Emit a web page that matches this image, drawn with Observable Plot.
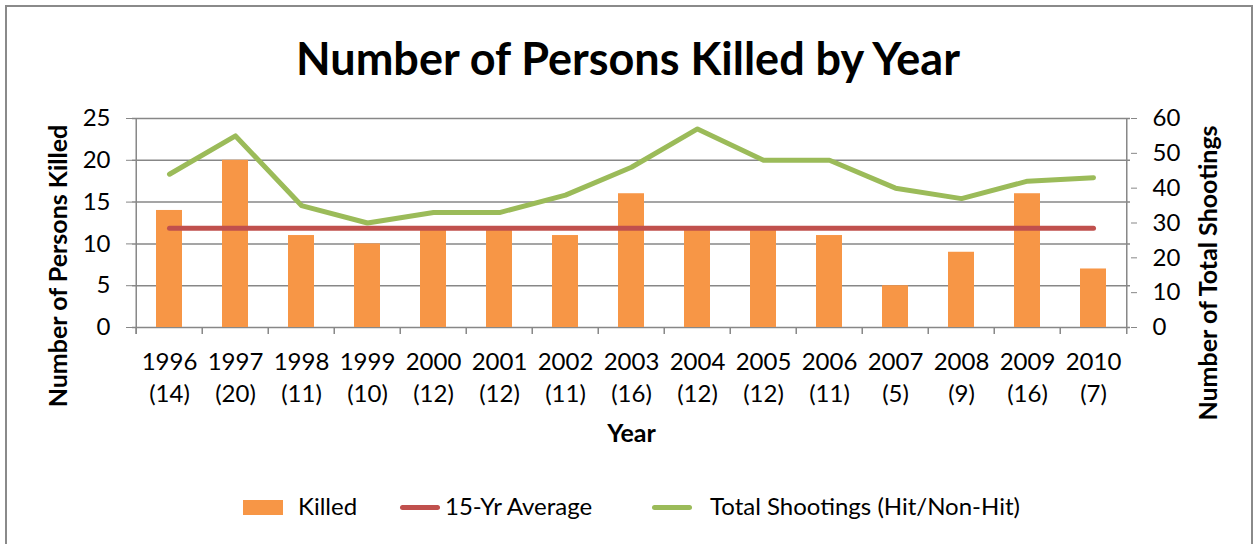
<!DOCTYPE html>
<html><head><meta charset="utf-8">
<script src="https://cdn.jsdelivr.net/npm/d3@7"></script>
<script src="https://cdn.jsdelivr.net/npm/@observablehq/plot@0.6"></script>
<style>
body{margin:0;width:1256px;height:544px;overflow:hidden;background:#fff;font-family:Lato,"Open Sans",sans-serif;position:relative;}
#frame{position:absolute;left:5px;top:5px;width:1248px;height:600px;border:2px solid #8a8a8a;box-sizing:border-box;}
#title{position:absolute;left:0;top:0;width:1256px;height:116px;text-align:center;font-weight:bold;font-size:45px;line-height:116px;color:#000;}
#chart{position:absolute;left:0;top:100px;}
.lg{position:absolute;top:491px;font-size:24px;line-height:30px;color:#000;white-space:nowrap;}
.sw{position:absolute;}
</style></head>
<body>
<div id="frame"></div>
<div id="title">Number of Persons Killed by Year</div>
<div id="chart"></div>
<div class="sw" style="left:243px;top:500px;width:40px;height:15px;background:#F79646"></div>
<div class="lg" style="left:298px">Killed</div>
<div class="sw" style="left:400px;top:505px;width:40px;height:5px;border-radius:3px;background:#C0504D"></div>
<div class="lg" style="left:445px">15-Yr Average</div>
<div class="sw" style="left:652px;top:505px;width:40px;height:5px;border-radius:3px;background:#9BBB59"></div>
<div class="lg" style="left:710px">Total Shootings (Hit/Non-Hit)</div>
<script>
const years = ["1996","1997","1998","1999","2000","2001","2002","2003","2004","2005","2006","2007","2008","2009","2010"];
const killed = [14,20,11,10,12,12,11,16,12,12,11,5,9,16,7];
const shootings = [44,55,35,30,33,33,38,46,57,48,48,40,37,42,43];
const average = 11.87;
const leftTicks = [0,5,10,15,20,25];
const rightTicks = [0,10,20,30,40,50,60];
const leftMax = 25, rightMax = 60;

const data = years.map((y,i)=>({year:y, killed:killed[i], shootings:shootings[i], avg:average}));
const W = 1256, H = 380, ML = 132, MR = 126, MT = 18, MB = 153;
const step = (W - ML - MR) / years.length;
const grid = "#878787";
const toLeft = v => v * leftMax / rightMax;

const chart = Plot.plot({
  width: W, height: H,
  marginLeft: ML, marginRight: MR, marginTop: MT, marginBottom: MB,
  style: {fontFamily: "Lato, 'Open Sans', sans-serif", fontSize: "24px", color: "#000", background: "transparent", overflow: "visible"},
  x: {type: "band", domain: years, paddingInner: 0.6, paddingOuter: 0.3, axis: null},
  y: {domain: [0, leftMax], axis: null},
  marks: [
    Plot.ruleY(leftTicks, {stroke: grid, strokeWidth: 1.5}),
    Plot.barY(data, {x: "year", y: "killed", fill: "#F79646"}),
    Plot.ruleX(years, {x: d => d, dx: -step/2, y1: -0.85, y2: 0, stroke: grid, strokeWidth: 1.5}),
    Plot.ruleX([years[0]], {x: d => d, dx: -step/2, y1: -0.85, y2: leftMax, stroke: grid, strokeWidth: 1.5}),
    Plot.ruleX([years[years.length-1]], {x: d => d, dx: step/2, y1: -0.85, y2: leftMax, stroke: grid, strokeWidth: 1.5}),
    Plot.lineY(data, {x: "year", y: "avg", stroke: "#C0504D", strokeWidth: 5, strokeLinecap: "round"}),
    Plot.lineY(data, {x: "year", y: d => toLeft(d.shootings), stroke: "#9BBB59", strokeWidth: 5, strokeLinecap: "round", strokeLinejoin: "round"}),
    Plot.axisY({anchor: "left", ticks: leftTicks, tickSize: 6, tickPadding: 16, stroke: grid, fill: "#000", fontSize: 24, label: null}),
    Plot.axisY({anchor: "right", ticks: rightTicks.map(toLeft), tickFormat: d => String(Math.round(d * rightMax / leftMax)), tickSize: 6, tickPadding: 16, stroke: grid, fill: "#000", fontSize: 24, label: null}),
    Plot.axisX({tickSize: 0, tickPadding: 19, tickFormat: d => `${d}\n(${killed[years.indexOf(d)]})`, fontSize: 24, lineHeight: 1.35, fill: "#000", label: null}),
    Plot.text(["Number of Persons Killed"], {text: d => d, frameAnchor: "left", textAnchor: "middle", dx: -74, dy: 43, rotate: -90, fontWeight: "bold", fontSize: 25, fill: "#000"}),
    Plot.text(["Number of Total Shootings"], {text: d => d, frameAnchor: "right", textAnchor: "middle", dx: 78, dy: 50, rotate: -90, fontWeight: "bold", fontSize: 25, fill: "#000"}),
    Plot.text(["Year"], {text: d => d, frameAnchor: "bottom", dy: 114, fontWeight: "bold", fontSize: 25, fill: "#000"})
  ]
});
document.getElementById("chart").appendChild(chart);
</script>
</body></html>
